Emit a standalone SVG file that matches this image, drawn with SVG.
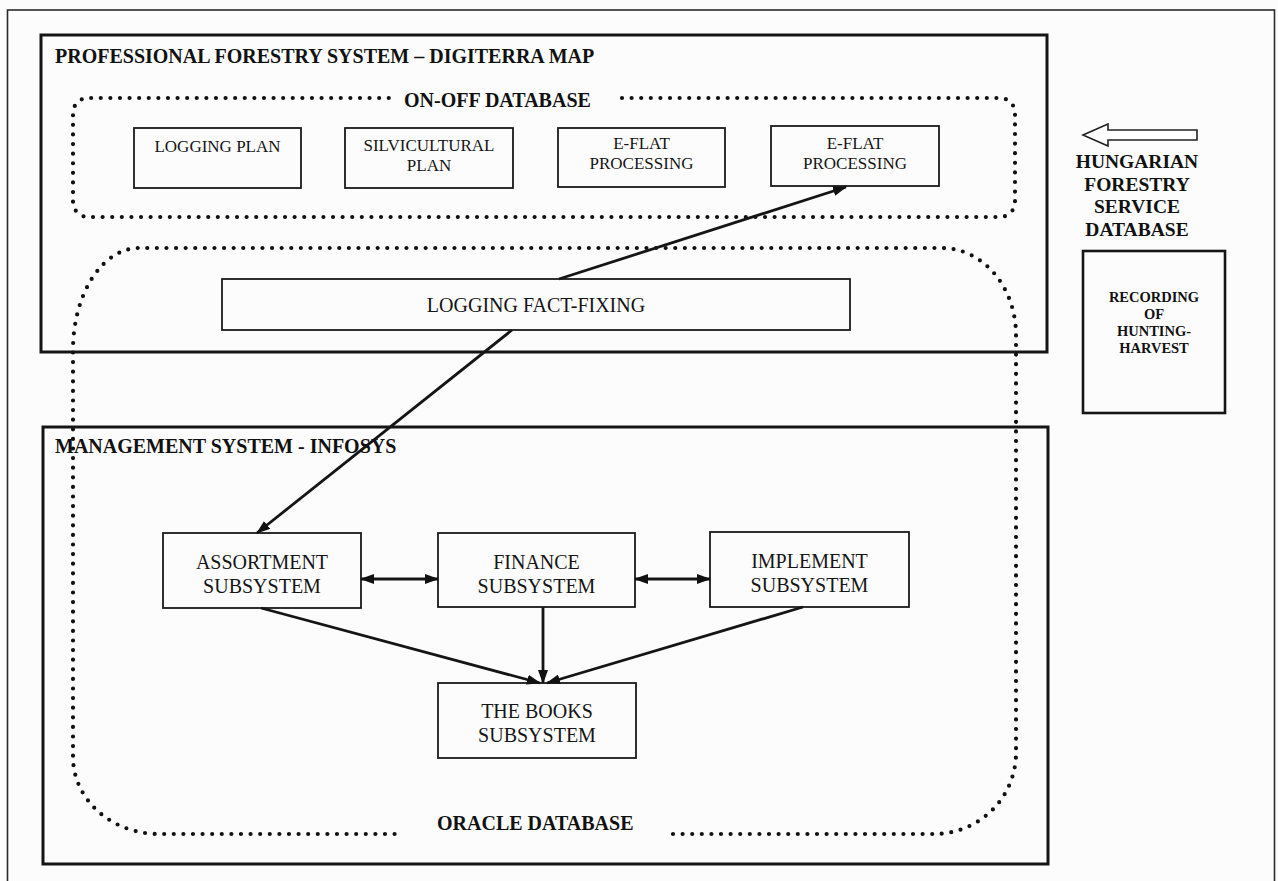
<svg xmlns="http://www.w3.org/2000/svg" width="1278" height="881" viewBox="0 0 1278 881">
  <style>
    .frame { fill: none; stroke: #2a2a2a; stroke-width: 1.6; }
    .sys { fill: none; stroke: #151515; stroke-width: 3; }
    .box { fill: none; stroke: #1a1a1a; stroke-width: 1.8; }
    .dots { fill: none; stroke: #111; stroke-width: 4.2; stroke-linecap: round; stroke-dasharray: 0 9.6; }
    .conn { fill: none; stroke: #151515; stroke-width: 2.8; }
    .hb { font-family: "Liberation Serif", "Times New Roman", serif; font-weight: bold; fill: #111; }
    .lbl { font-family: "Liberation Serif", "Times New Roman", serif; fill: #151515; }
  </style>
  <defs>
    <marker id="ah" viewBox="0 0 14 10" refX="13" refY="5" markerWidth="14" markerHeight="10" markerUnits="userSpaceOnUse" orient="auto-start-reverse">
      <path d="M0,0 L14,5 L0,10 z" fill="#111"/>
    </marker>
  </defs>
  <rect width="1278" height="881" fill="#fcfcfc"/>

  <!-- outer frame -->
  <rect class="frame" x="7.5" y="10" width="1267" height="890"/>

  <!-- Professional forestry system -->
  <g id="pfs">
    <rect class="sys" x="41" y="35" width="1006" height="317"/>
    <text class="hb" x="55" y="63" font-size="20">PROFESSIONAL FORESTRY SYSTEM – DIGITERRA MAP</text>
  </g>

  <!-- ON-OFF database region -->
  <g id="onoff">
    <path class="dots" d="M622 98 H1000 A15 15 0 0 1 1015 113 V202 A15 15 0 0 1 1000 217 H88 A15 15 0 0 1 73 202 V113 A15 15 0 0 1 88 98 H390"/>
    <text class="hb" x="404" y="107" font-size="20">ON-OFF DATABASE</text>
  </g>

  <g id="logging-plan">
    <rect class="box" x="134" y="128" width="167" height="60"/>
    <text class="lbl" x="217.5" y="152" font-size="17" text-anchor="middle">LOGGING PLAN</text>
  </g>
  <g id="silvicultural-plan">
    <rect class="box" x="345" y="128" width="168" height="60"/>
    <text class="lbl" x="429" y="151" font-size="17" text-anchor="middle">SILVICULTURAL</text>
    <text class="lbl" x="429" y="171" font-size="17" text-anchor="middle">PLAN</text>
  </g>
  <g id="eflat-1">
    <rect class="box" x="558" y="128" width="167" height="59"/>
    <text class="lbl" x="641.5" y="149" font-size="17" text-anchor="middle">E-FLAT</text>
    <text class="lbl" x="641.5" y="169" font-size="17" text-anchor="middle">PROCESSING</text>
  </g>
  <g id="eflat-2">
    <rect class="box" x="771" y="126" width="168" height="60"/>
    <text class="lbl" x="855" y="149" font-size="17" text-anchor="middle">E-FLAT</text>
    <text class="lbl" x="855" y="169" font-size="17" text-anchor="middle">PROCESSING</text>
  </g>

  <g id="logging-fact-fixing">
    <rect class="box" x="222" y="279" width="628" height="51"/>
    <text class="lbl" x="536" y="312" font-size="20" text-anchor="middle">LOGGING FACT-FIXING</text>
  </g>

  <!-- Hungarian forestry service database -->
  <g id="hfsd">
    <path d="M1083 135 L1108 124 V130 H1197 V140 H1108 V146 Z" fill="#fff" stroke="#222" stroke-width="1.6" stroke-linejoin="miter"/>
    <text class="hb" x="1137" y="168" font-size="19.5" text-anchor="middle">HUNGARIAN</text>
    <text class="hb" x="1137" y="190.5" font-size="19.5" text-anchor="middle">FORESTRY</text>
    <text class="hb" x="1137" y="213" font-size="19.5" text-anchor="middle">SERVICE</text>
    <text class="hb" x="1137" y="235.5" font-size="19.5" text-anchor="middle">DATABASE</text>
  </g>

  <g id="recording-hunting-harvest">
    <rect x="1083" y="251" width="142" height="162" fill="none" stroke="#151515" stroke-width="2.6"/>
    <text class="hb" x="1154" y="302" font-size="14.5" text-anchor="middle">RECORDING</text>
    <text class="hb" x="1154" y="319" font-size="14.5" text-anchor="middle">OF</text>
    <text class="hb" x="1154" y="336" font-size="14.5" text-anchor="middle">HUNTING-</text>
    <text class="hb" x="1154" y="353" font-size="14.5" text-anchor="middle">HARVEST</text>
  </g>

  <!-- Management system -->
  <g id="management-system">
    <rect class="sys" x="43" y="427" width="1005" height="437"/>
    <text class="hb" x="55" y="453" font-size="20">MANAGEMENT SYSTEM - INFOSYS</text>
  </g>

  <!-- Oracle database region -->
  <g id="oracle">
    <path class="dots" d="M673 834 H934 A82 81 0 0 0 1016 753 V335 A74 87 0 0 0 942 248 H139 A66 102 0 0 0 73 350 V757 A86 77 0 0 0 159 834 H404"/>
    <text class="hb" x="437" y="830" font-size="20">ORACLE DATABASE</text>
  </g>

  <g id="assortment">
    <rect class="box" x="163" y="533" width="198" height="75"/>
    <text class="lbl" x="262" y="569" font-size="20" text-anchor="middle">ASSORTMENT</text>
    <text class="lbl" x="262" y="593" font-size="20" text-anchor="middle">SUBSYSTEM</text>
  </g>
  <g id="finance">
    <rect class="box" x="438" y="533" width="197" height="74"/>
    <text class="lbl" x="536.5" y="569" font-size="20" text-anchor="middle">FINANCE</text>
    <text class="lbl" x="536.5" y="593" font-size="20" text-anchor="middle">SUBSYSTEM</text>
  </g>
  <g id="implement">
    <rect class="box" x="710" y="532" width="199" height="75"/>
    <text class="lbl" x="809.5" y="568" font-size="20" text-anchor="middle">IMPLEMENT</text>
    <text class="lbl" x="809.5" y="592" font-size="20" text-anchor="middle">SUBSYSTEM</text>
  </g>
  <g id="books">
    <rect class="box" x="438" y="683" width="198" height="75"/>
    <text class="lbl" x="537" y="718" font-size="20" text-anchor="middle">THE BOOKS</text>
    <text class="lbl" x="537" y="742" font-size="20" text-anchor="middle">SUBSYSTEM</text>
  </g>

  <!-- connectors -->
  <g id="connectors">
    <line class="conn" x1="559" y1="279" x2="846" y2="187" marker-end="url(#ah)"/>
    <line class="conn" x1="512" y1="330" x2="257" y2="533" marker-end="url(#ah)"/>
    <line class="conn" x1="361" y1="579" x2="438" y2="579" marker-start="url(#ah)" marker-end="url(#ah)"/>
    <line class="conn" x1="635" y1="579" x2="710" y2="579" marker-start="url(#ah)" marker-end="url(#ah)"/>
    <line class="conn" x1="261" y1="608" x2="540" y2="683" marker-end="url(#ah)"/>
    <line class="conn" x1="543" y1="607" x2="543" y2="683" marker-end="url(#ah)"/>
    <line class="conn" x1="803" y1="607" x2="547" y2="683" marker-end="url(#ah)"/>
  </g>
</svg>
